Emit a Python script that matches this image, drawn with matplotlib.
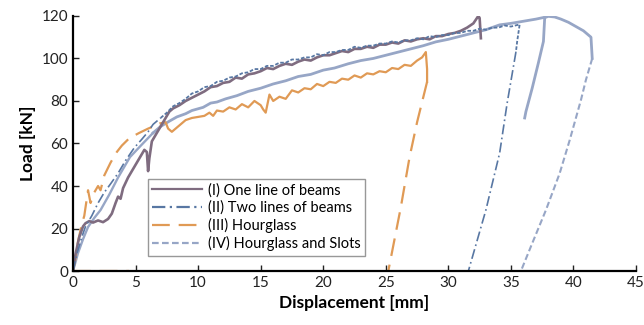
import matplotlib
matplotlib.use('Agg')
import matplotlib.pyplot as plt
from matplotlib.lines import Line2D

plt.rcParams['font.family'] = ['Lato', 'DejaVu Sans']

# (displacement mm, load kN)
one_line = [(0, 0), (0.2, 8), (0.5, 16), (0.8, 21), (1.0, 22.5), (1.3, 23.5), (1.6, 22.8),
            (2.0, 23.8), (2.4, 23), (2.8, 24.5), (3.1, 27), (3.4, 32), (3.6, 35), (3.8, 34),
            (4.0, 39), (4.4, 44), (4.9, 49), (5.3, 53), (5.7, 57), (5.9, 56), (6.0, 47),
            (6.1, 53), (6.3, 61), (6.7, 65), (7.0, 68), (7.4, 72), (7.7, 75), (8.0, 76.5),
            (8.5, 78), (9.0, 80), (9.5, 81.5), (10, 83), (10.5, 84.5), (11, 86.5), (11.5, 87),
            (12, 88.5), (12.5, 89), (13, 91), (13.5, 90.5), (14, 92.5), (14.5, 93), (15, 94),
            (15.5, 95.5), (16, 95), (16.5, 96.5), (17, 97.5), (17.5, 97), (18, 98.5),
            (18.5, 99.5), (19, 99), (19.5, 100.5), (20, 101.5), (20.5, 101.5), (21, 102.5),
            (21.5, 103.5), (22, 103), (22.5, 104.5), (23, 104.5), (23.5, 105.5), (24, 105),
            (24.5, 106.5), (25, 106.5), (25.5, 107.5), (26, 107), (26.5, 108.5), (27, 108),
            (27.5, 109), (28, 109.5), (28.5, 109), (29, 110.5), (29.5, 110.5), (30, 111.5),
            (30.5, 112), (31, 113), (31.5, 114.5), (32, 116.5), (32.4, 120), (32.5, 119),
            (32.6, 109.5)]

two_early = [(0, 0), (0.3, 8), (0.7, 16), (1.0, 21), (1.5, 26), (2.0, 32), (2.5, 37),
             (3.0, 41), (3.6, 46), (4.2, 52), (4.9, 58), (5.5, 62), (6.0, 65.5), (6.4, 69),
             (7.0, 72)]
two_load = [(7.0, 72), (7.5, 74.5), (8.0, 77.5), (8.5, 79), (9.0, 81), (9.5, 83.5),
            (10, 84.5), (10.5, 86.5), (11, 87), (11.5, 89), (12, 89.5), (12.5, 91), (13, 91.5),
            (13.5, 93), (14, 93.5), (14.5, 95), (15, 95), (15.5, 96.5), (16, 96.5), (16.5, 98),
            (17, 98), (17.5, 99.5), (18, 99.5), (18.5, 100.5), (19, 100.5), (19.5, 102),
            (20, 101.5), (20.5, 103), (21, 103), (21.5, 104), (22, 104), (22.5, 105.5),
            (23, 105), (23.5, 106), (24, 106), (24.5, 107), (25, 107), (25.5, 108),
            (26, 107.5), (26.5, 108.5), (27, 108.5), (27.5, 109.5), (28, 109), (28.5, 110.5),
            (29, 110), (29.5, 111), (30, 111), (30.5, 112), (31, 112), (31.5, 113), (32, 113),
            (32.5, 114), (33, 113.5), (33.5, 114.5), (34, 114.5), (34.5, 115.5), (35, 115),
            (35.7, 116), (35.5, 108), (35.4, 103)]
two_unload = [(35.4, 103), (34.7, 79), (34.1, 55.5), (33.0, 28.7), (31.6, 0)]
two_zero = [(0, 0), (15, 0)]

hour_early = [(0, 0), (0.2, 6), (0.4, 14), (0.7, 22), (0.9, 26), (1.1, 34), (1.2, 38),
              (1.4, 32), (1.7, 37), (2.0, 40), (2.2, 38), (2.5, 45), (3.0, 51), (3.5, 56),
              (3.9, 59), (4.5, 62.5), (5.3, 65), (6.0, 67), (6.7, 68.7), (7.0, 69.5)]
hour_load = [(7.0, 69.5), (7.4, 70), (7.6, 67), (7.9, 65.5), (8.2, 67), (8.5, 68.5),
             (9.0, 71), (9.5, 72), (10, 72.5), (10.5, 73), (10.9, 74.5), (11.2, 73),
             (11.5, 75.5), (12, 75), (12.5, 77), (13, 76), (13.5, 78.5), (14, 77), (14.5, 80),
             (15, 78), (15.2, 76), (15.4, 74.5), (15.7, 83), (16, 80), (16.5, 82), (17, 81),
             (17.5, 85), (18, 84), (18.5, 86), (19, 85.5), (19.5, 88), (20, 87), (20.5, 89),
             (21, 88.5), (21.5, 90.5), (22, 90), (22.5, 92), (23, 91), (23.5, 93), (24, 92.5),
             (24.5, 94), (25, 93.5), (25.5, 95.5), (26, 95), (26.5, 97), (27, 96.5),
             (27.5, 99), (27.9, 100.5), (28.2, 103), (28.3, 95), (28.3, 89)]
hour_unload = [(28.3, 89), (27.5, 70), (26.9, 53.6), (26.2, 30), (25.2, 0)]
hour_zero = [(0, 0), (4.5, 0)]

slots_early = [(0, 0), (0.4, 8.5), (0.8, 15), (1.2, 20.7), (1.7, 25), (2.2, 28.7),
               (2.9, 36), (3.6, 44), (4.55, 53.6), (5.5, 59.5), (6.4, 65)]
slots_load = [(6.4, 65), (7.0, 68), (7.7, 70.5), (8.3, 72.5), (9.0, 74), (9.5, 75.5),
              (10.4, 77), (11, 79), (11.5, 79.5), (12.2, 81), (13.1, 82.5), (14, 84.5),
              (15, 86), (16, 88), (17, 89.5), (18, 91.5), (19, 92.5), (20, 94.5),
              (20.9, 95.5), (22, 97.5), (23, 99), (24, 100), (25, 101.5), (26, 103),
              (27, 104.5), (28, 106), (29, 107.8), (30, 109), (31, 110.5), (32, 112),
              (33, 113.5), (34.1, 115.8), (35, 116.5), (36, 117.5), (37, 118.5), (37.8, 119.5)]
slots_drop = [(37.7, 119), (37.6, 108), (37.2, 98), (36.7, 86), (36.2, 75), (36.1, 72)]
slots_top = [(37.8, 119.5), (38.0, 119.8), (38.5, 119.5), (39, 118.5), (39.6, 117),
             (40.2, 115), (40.8, 113), (41.4, 110), (41.5, 100)]
slots_unload = [(41.5, 100), (41.0, 90), (40.6, 80.5), (39.7, 61.6), (38.9, 46),
                (37.8, 28.7), (36.7, 13), (35.8, 0)]

labels = ['(I) One line of beams', '(II) Two lines of beams', '(III) Hourglass',
          '(IV) Hourglass and Slots']
colors = ['#7f6c80', '#5877a3', '#e09a55', '#97a6c6']
styles = ['-', (0, (6, 2, 1, 2)), (0, (8, 4)), (0, (3, 1.5))]


def xy(pts):
    return [p[0] for p in pts], [p[1] for p in pts]


fig, ax = plt.subplots(figsize=(6.44, 3.25), dpi=100)
fig.subplots_adjust(left=0.1134, right=0.9876, bottom=0.166, top=0.951)

# (IV)
for seg, ls, lw in [(slots_early, '-', 1.7), (slots_load, '-', 2.0), (slots_drop, '-', 2.0),
                    (slots_top, '-', 2.0), (slots_unload, styles[3], 1.5)]:
    ax.plot(*xy(seg), color=colors[3], lw=lw, ls=ls)
# (III)
for seg, ls in [(hour_zero, styles[2]), (hour_early, styles[2]), (hour_load, '-'),
                (hour_unload, styles[2])]:
    ax.plot(*xy(seg), color=colors[2], lw=1.6, ls=ls)
# (I)
ax.plot(*xy(one_line), color=colors[0], lw=1.9, ls='-')
# (II)
for seg, ls, lw in [(two_zero, styles[1], 1.2), (two_early, styles[1], 1.2),
                    (two_load, (0, (2, 1)), 1.3), (two_unload, styles[1], 1.2)]:
    ax.plot(*xy(seg), color=colors[1], lw=lw, ls=ls)

handles = [Line2D([], [], color=c, ls=s, lw=1.6) for c, s in zip(colors, styles)]
leg = ax.legend(handles, labels, loc='lower left', bbox_to_anchor=(0.133, 0.06),
                fontsize=10.5, frameon=True, fancybox=False, handlelength=3.4,
                handletextpad=0.4, labelspacing=0.22, borderpad=0.3, borderaxespad=0)
leg.get_frame().set_edgecolor('#7f7f7f')
leg.get_frame().set_linewidth(1.0)

ax.set_xlim(0, 45)
ax.set_ylim(0, 120)
ax.set_xticks(range(0, 46, 5))
ax.set_yticks(range(0, 121, 20))
ax.spines['top'].set_visible(False)
ax.spines['right'].set_visible(False)
for s in ['left', 'bottom']:
    ax.spines[s].set_linewidth(1.6)
ax.tick_params(direction='in', length=4, width=1, labelsize=11, colors='#222222')
ax.set_xlabel('Displacement [mm]', fontsize=12.5, fontweight='bold', labelpad=4)
ax.set_ylabel('Load [kN]', fontsize=12.5, fontweight='bold', labelpad=4)

plt.savefig('out.png', dpi=100)
